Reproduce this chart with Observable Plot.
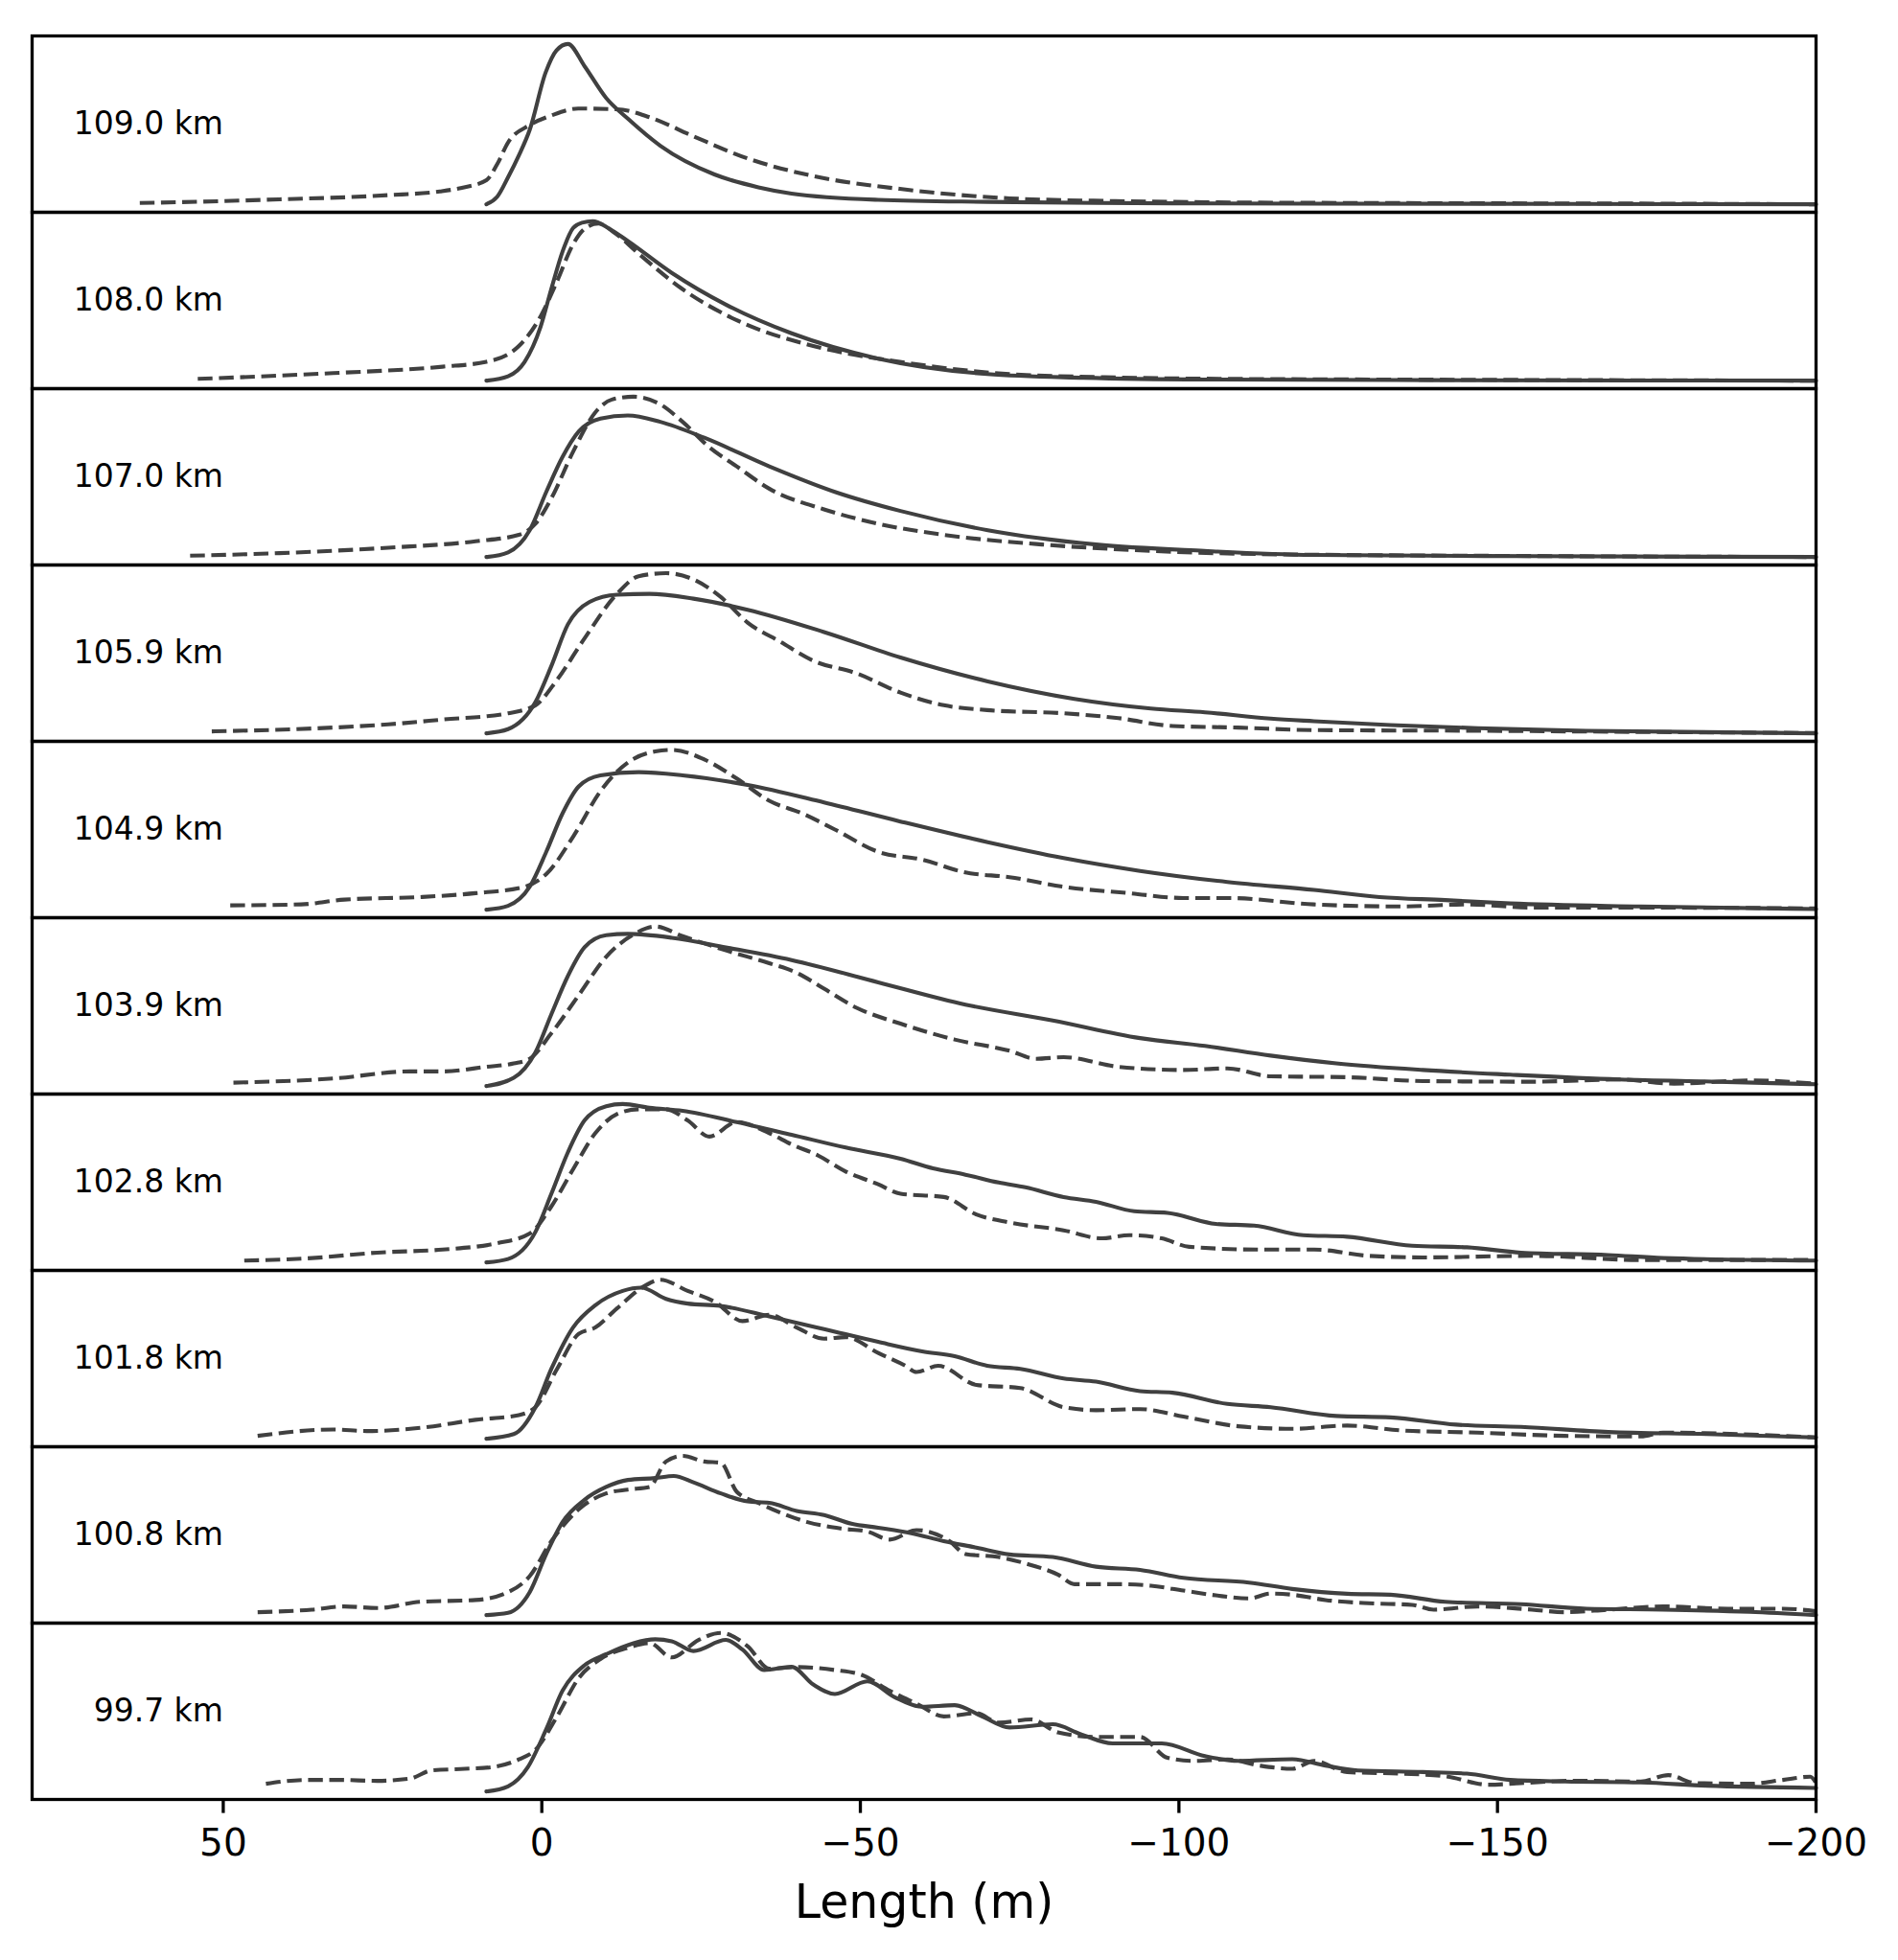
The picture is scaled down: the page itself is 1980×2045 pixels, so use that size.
<!DOCTYPE html>
<html><head><meta charset="utf-8">
<script src="https://cdn.jsdelivr.net/npm/d3@7"></script>
<script src="https://cdn.jsdelivr.net/npm/@observablehq/plot@0.6"></script>
<style>body{margin:0;background:#fff} svg{display:block}</style>
</head><body><div id="chart"></div>
<script>
const panels = ["109.0 km","108.0 km","107.0 km","105.9 km","104.9 km","103.9 km","102.8 km","101.8 km","100.8 km","99.7 km"];
const xTicks = [50, 0, -50, -100, -150, -200];
const xLabel = "Length (m)";

// solid = model, dashed = observed; [length (m), normalized intensity]
const s1090 = [[8.7,0],[7,0.047],[5.3,0.168],[3.6,0.305],[1.9,0.464],[-0.6,0.822],[-2.3,0.96],[-4.1,1.0],[-6.7,0.862],[-10.1,0.663],[-13.5,0.534],[-18.6,0.365],[-27.1,0.186],[-34,0.106],[-39.2,0.067],[-52.8,0.028],[-70,0.015],[-87,0.008],[-120,0.004],[-160,0.002],[-200,0]];
const d1090 = [[63.1,0.008],[50,0.02],[41.2,0.031],[30,0.045],[24.1,0.057],[16,0.08],[12.2,0.106],[8.7,0.15],[7,0.25],[5.3,0.385],[1.9,0.494],[-1.5,0.554],[-5.7,0.597],[-11.8,0.593],[-16.9,0.543],[-23.8,0.424],[-32.3,0.286],[-42.6,0.176],[-56.2,0.096],[-73.4,0.037],[-90,0.02],[-104,0.013],[-130,0.008],[-150,0.006],[-175,0.004],[-200,0]];
const s1080 = [[8.7,0],[5.3,0.027],[2.7,0.117],[0.2,0.335],[-1.5,0.573],[-3.3,0.81],[-4.9,0.951],[-6.3,0.985],[-8,0.995],[-10.5,0.95],[-13.5,0.871],[-20.4,0.672],[-28.9,0.474],[-39.2,0.295],[-52.8,0.137],[-69.9,0.041],[-85,0.018],[-104,0.007],[-140,0.003],[-200,0]];
const d1080 = [[54,0.011],[45,0.025],[32.7,0.047],[15.6,0.087],[8.7,0.117],[3.6,0.216],[0.2,0.4],[-2.4,0.62],[-4.9,0.85],[-6.8,0.95],[-8.9,0.98],[-11.5,0.92],[-15.2,0.792],[-22,0.573],[-30.7,0.375],[-42.6,0.216],[-56.2,0.117],[-73.4,0.041],[-90,0.02],[-104,0.012],[-140,0.006],[-200,0]];
const s1070 = [[8.7,0],[5.3,0.029],[1.9,0.167],[-0.7,0.406],[-3.25,0.624],[-5.8,0.783],[-9.2,0.863],[-13.5,0.883],[-18.6,0.843],[-25.5,0.744],[-35.7,0.565],[-46,0.406],[-56.3,0.287],[-70,0.167],[-87,0.078],[-104,0.038],[-121,0.013],[-155.5,0.005],[-200,0]];
const d1070 = [[55.2,0.008],[41.2,0.024],[24.1,0.058],[10.4,0.098],[3.6,0.138],[1,0.207],[-1.5,0.366],[-5,0.664],[-8.4,0.902],[-11,0.982],[-14.4,1.0],[-18.6,0.952],[-22.1,0.843],[-26.3,0.684],[-30.6,0.565],[-35.7,0.426],[-44.3,0.297],[-52.8,0.207],[-63.1,0.138],[-78.5,0.078],[-95.6,0.038],[-112.7,0.018],[-155.5,0.006],[-200,0]];
const s1059 = [[8.7,0],[5.3,0.026],[1,0.195],[-1.5,0.42],[-4.1,0.68],[-7.5,0.82],[-11.8,0.865],[-16.9,0.87],[-23.8,0.84],[-32.3,0.771],[-44.3,0.632],[-56.3,0.473],[-70,0.324],[-83.6,0.215],[-95.6,0.155],[-104.1,0.131],[-114.4,0.092],[-121.2,0.076],[-133.2,0.052],[-146.9,0.032],[-164,0.016],[-200,0]];
const d1059 = [[51.8,0.012],[32.7,0.036],[24.1,0.056],[15.6,0.086],[5.3,0.125],[1,0.175],[-2.4,0.334],[-6.7,0.592],[-11.8,0.87],[-15.2,0.98],[-19.5,0.999],[-23.8,0.96],[-28.1,0.85],[-32.3,0.691],[-37.4,0.572],[-42.6,0.453],[-49.4,0.374],[-56.3,0.254],[-63.1,0.175],[-69.9,0.145],[-81.9,0.125],[-90.5,0.095],[-99,0.046],[-109.3,0.036],[-121.2,0.02],[-147,0.016],[-175,0.008],[-200,0.002]];
const s1049 = [[8.7,0],[5.3,0.024],[1.9,0.143],[-0.7,0.361],[-3.25,0.6],[-5.8,0.769],[-9.2,0.838],[-15.2,0.858],[-22.1,0.838],[-32.3,0.778],[-44.3,0.669],[-56.3,0.55],[-70,0.421],[-81.9,0.322],[-93.9,0.242],[-107.6,0.173],[-121.2,0.123],[-131.5,0.079],[-141.8,0.06],[-152,0.039],[-172.5,0.02],[-200,0.004]];
const d1049 = [[48.9,0.027],[37.8,0.033],[31,0.063],[19,0.079],[10.4,0.103],[2.7,0.143],[-0.7,0.222],[-5,0.461],[-9.2,0.739],[-13.5,0.918],[-17.8,0.987],[-20.4,0.997],[-25.5,0.937],[-30.6,0.818],[-35.7,0.679],[-40.9,0.6],[-46,0.5],[-52.8,0.361],[-59.7,0.312],[-66.5,0.232],[-73.4,0.203],[-81.9,0.143],[-92.2,0.103],[-100.7,0.073],[-107.6,0.073],[-121.2,0.033],[-134.9,0.02],[-145.2,0.033],[-155.4,0.013],[-172.5,0.013],[-200,0.008]];
const s1039 = [[8.7,0],[4.4,0.051],[1,0.21],[-1.5,0.448],[-4.1,0.687],[-6.7,0.865],[-10.1,0.941],[-13.5,0.949],[-20.4,0.925],[-28.9,0.865],[-39.2,0.786],[-52.8,0.647],[-66.5,0.508],[-80.2,0.409],[-93.9,0.299],[-104.1,0.25],[-114.4,0.19],[-124.7,0.141],[-138.3,0.1],[-152,0.071],[-169.1,0.041],[-184.5,0.027],[-200,0.011]];
const d1039 = [[48.4,0.021],[32.7,0.047],[20.7,0.091],[15.6,0.091],[8.7,0.12],[4.4,0.141],[1.9,0.17],[-1.5,0.329],[-5.8,0.567],[-10.1,0.806],[-14.4,0.945],[-17.8,0.995],[-22.1,0.935],[-28.9,0.846],[-35.7,0.766],[-40,0.707],[-44.3,0.607],[-49.4,0.488],[-56.3,0.389],[-64.8,0.29],[-73.4,0.22],[-77.6,0.17],[-81.9,0.18],[-90.5,0.12],[-100.7,0.1],[-107.6,0.11],[-114.4,0.061],[-126.4,0.055],[-138.3,0.031],[-155.4,0.027],[-169.1,0.041],[-177.7,0.015],[-189.6,0.035],[-200,0.015]];
const s1028 = [[8.7,0],[5.3,0.021],[1,0.19],[-1.5,0.428],[-4.1,0.687],[-6.7,0.885],[-10.1,0.974],[-12.7,0.988],[-16.9,0.964],[-22.1,0.945],[-30.6,0.875],[-39.2,0.796],[-47.7,0.716],[-56.3,0.647],[-61.4,0.587],[-66.5,0.547],[-71.7,0.498],[-75.9,0.468],[-81.9,0.408],[-87,0.378],[-93,0.319],[-98.2,0.309],[-105.8,0.24],[-111.8,0.229],[-119.5,0.17],[-126.4,0.16],[-136.6,0.104],[-145.2,0.094],[-153.7,0.061],[-167.4,0.046],[-176,0.027],[-200,0.011]];
const d1028 = [[46.7,0.011],[36.1,0.027],[25.8,0.061],[15.6,0.08],[7,0.12],[1.9,0.18],[-1.5,0.349],[-5,0.587],[-8.4,0.806],[-11.8,0.925],[-15.2,0.955],[-19.5,0.955],[-22.9,0.885],[-26.3,0.785],[-30.6,0.875],[-35.7,0.806],[-39.2,0.736],[-43.4,0.666],[-47.7,0.567],[-52.8,0.487],[-56.3,0.428],[-63.1,0.408],[-68.2,0.299],[-73.4,0.249],[-81.9,0.2],[-87.9,0.15],[-92.2,0.17],[-97.3,0.15],[-101.6,0.097],[-112.7,0.08],[-121.2,0.08],[-129.8,0.041],[-138.3,0.031],[-155.4,0.041],[-172.5,0.015],[-200,0.015]];
const s1018 = [[8.7,0],[4.4,0.029],[1,0.197],[-1.5,0.436],[-4.9,0.694],[-8.4,0.833],[-12.7,0.922],[-15.6,0.942],[-19.5,0.872],[-22.9,0.843],[-28,0.829],[-35.7,0.763],[-44.3,0.684],[-52.8,0.604],[-59.7,0.545],[-64.8,0.515],[-69.9,0.455],[-75.1,0.436],[-81.9,0.376],[-87,0.356],[-93.9,0.297],[-99,0.287],[-107.6,0.217],[-114.4,0.197],[-124.7,0.142],[-133.2,0.133],[-143.5,0.088],[-153.7,0.074],[-167.4,0.042],[-182.8,0.029],[-200,0.008]];
const d1018 = [[44.6,0.018],[32.7,0.058],[27.5,0.048],[19,0.068],[10.4,0.118],[3.6,0.148],[1,0.197],[-2.4,0.436],[-5.8,0.654],[-8.4,0.694],[-11.8,0.813],[-16.1,0.952],[-18.6,0.992],[-22.9,0.922],[-27.2,0.853],[-31.5,0.734],[-35.7,0.773],[-40,0.694],[-44.3,0.624],[-47.7,0.634],[-52.8,0.535],[-57.1,0.455],[-58.8,0.416],[-62.2,0.455],[-68.2,0.336],[-75.1,0.316],[-81.9,0.197],[-87,0.178],[-93.9,0.185],[-100.7,0.138],[-109.3,0.078],[-117.8,0.062],[-126.4,0.082],[-134.9,0.052],[-146.9,0.038],[-160.6,0.018],[-172.5,0.014],[-176,0.038],[-200,0.008]];
const s1008 = [[8.7,0],[5.3,0.014],[1.9,0.143],[-0.7,0.381],[-3.25,0.58],[-6.7,0.719],[-10.1,0.799],[-13.5,0.843],[-17.8,0.855],[-20.7,0.868],[-23.8,0.828],[-28.1,0.759],[-32.3,0.709],[-35.7,0.7],[-40,0.65],[-44.3,0.624],[-48.6,0.57],[-52.8,0.545],[-58,0.511],[-63.1,0.461],[-68.2,0.421],[-73.4,0.378],[-80.2,0.362],[-87,0.302],[-93.9,0.282],[-100.7,0.232],[-111,0.203],[-117.8,0.163],[-126.4,0.133],[-133.2,0.127],[-141.8,0.083],[-153.7,0.068],[-164,0.04],[-176,0.034],[-189.6,0.02],[-200,0]];
const d1008 = [[44.6,0.018],[36.1,0.034],[31,0.054],[25.8,0.044],[19,0.083],[10.4,0.094],[5.3,0.143],[1.9,0.243],[-1.5,0.461],[-5.8,0.66],[-10.1,0.759],[-13.5,0.783],[-16.9,0.799],[-19.5,0.958],[-22.1,0.993],[-25.5,0.958],[-28.1,0.95],[-30.6,0.769],[-34,0.7],[-37.4,0.64],[-41.7,0.58],[-46.9,0.54],[-51.1,0.521],[-54.6,0.471],[-58.8,0.53],[-64,0.461],[-66.5,0.381],[-71.7,0.362],[-76.8,0.312],[-81,0.253],[-83.6,0.193],[-90.5,0.193],[-95.6,0.183],[-100.7,0.153],[-105.8,0.123],[-111,0.104],[-114.4,0.134],[-117.8,0.127],[-123,0.094],[-129.8,0.074],[-136.6,0.064],[-140,0.034],[-146.9,0.054],[-155.4,0.034],[-160.6,0.018],[-167.4,0.034],[-176,0.054],[-186.2,0.04],[-194.8,0.04],[-200,0.024]];
const s0997 = [[8.7,0],[5.3,0.032],[2.2,0.151],[-0.7,0.389],[-3.25,0.628],[-6.7,0.787],[-10.1,0.856],[-14.4,0.925],[-17.8,0.949],[-20.4,0.937],[-23.8,0.876],[-28.9,0.945],[-31.5,0.885],[-34.9,0.757],[-39.2,0.777],[-42.6,0.667],[-46,0.608],[-51.1,0.687],[-55.4,0.588],[-59.7,0.528],[-64.8,0.538],[-69.1,0.468],[-73.4,0.399],[-80.2,0.419],[-84.5,0.359],[-89.6,0.3],[-97.3,0.3],[-104.1,0.22],[-109.3,0.191],[-117.8,0.201],[-123,0.161],[-128.1,0.131],[-138.3,0.121],[-145.2,0.111],[-152,0.072],[-160.6,0.062],[-172.5,0.056],[-182.8,0.036],[-200,0.022]];
const d0997 = [[43.3,0.048],[36.9,0.072],[31.8,0.072],[25.8,0.066],[20.7,0.08],[17.3,0.131],[12.1,0.141],[7.9,0.151],[3.6,0.2],[1,0.26],[-2.4,0.468],[-5.8,0.707],[-9.2,0.826],[-13.5,0.896],[-16.9,0.925],[-20.4,0.836],[-24.6,0.945],[-28.1,0.989],[-32.3,0.906],[-35.7,0.766],[-40,0.776],[-46,0.757],[-50.2,0.727],[-54.6,0.628],[-58.8,0.548],[-63.1,0.468],[-68.2,0.488],[-71.7,0.429],[-76.8,0.449],[-81,0.369],[-87,0.34],[-93.9,0.34],[-98.2,0.21],[-102.4,0.19],[-107.6,0.2],[-112.7,0.161],[-117.8,0.141],[-121.2,0.19],[-126.4,0.121],[-134.9,0.111],[-141.8,0.095],[-148.6,0.042],[-153.7,0.052],[-162.3,0.067],[-172.5,0.062],[-176.8,0.102],[-181.1,0.052],[-189.6,0.048],[-194.8,0.072],[-199.1,0.092],[-200,0.052]];

const solidSeries = [s1090, s1080, s1070, s1059, s1049, s1039, s1028, s1018, s1008, s0997];
const dashedSeries = [d1090, d1080, d1070, d1059, d1049, d1039, d1028, d1018, d1008, d0997];

const solidRows = [], dashedRows = [];
panels.forEach((p, i) => {
  solidSeries[i].forEach(([x, y]) => solidRows.push({panel: p, x, y}));
  dashedSeries[i].forEach(([x, y]) => dashedRows.push({panel: p, x, y}));
});

const fmt = d => d < 0 ? "\u2212" + Math.abs(d) : String(d);
const lineColor = "#404040";

const chart = Plot.plot({
  width: 1980,
  height: 2045,
  marginLeft: 33,
  marginRight: 86,
  marginTop: 33,
  marginBottom: 164,
  style: {fontFamily: "'DejaVu Sans', sans-serif", background: "white", color: "black"},
  x: {domain: [80, -200]},
  y: {domain: [-0.05, 1.05], axis: null},
  fy: {domain: panels, padding: 0, axis: null},
  marks: [
    Plot.line(dashedRows, {x: "x", y: "y", fy: "panel", stroke: lineColor, strokeWidth: 4.1, strokeDasharray: "15.4,6.7", strokeLinecap: "butt", curve: "monotone-x"}),
    Plot.line(solidRows, {x: "x", y: "y", fy: "panel", stroke: lineColor, strokeWidth: 4.1, curve: "monotone-x"}),
    Plot.frame({stroke: "black", strokeWidth: 3.3}),
    Plot.text(panels, {fy: d => d, x: 50, y: 0.5, text: d => d, textAnchor: "end", fontSize: 33, fill: "black"}),
    Plot.axisX({ticks: xTicks, tickSize: 14.6, tickPadding: 16.5, fontSize: 39, tickFormat: fmt, label: null, stroke: "black", strokeWidth: 3.3, fill: "black"}),
    Plot.text([xLabel], {fy: () => panels[panels.length - 1], frameAnchor: "bottom", dy: 123, lineAnchor: "bottom", text: d => d, fontSize: 49, fill: "black"})
  ]
});
document.getElementById("chart").appendChild(chart);
</script>
</body></html>
